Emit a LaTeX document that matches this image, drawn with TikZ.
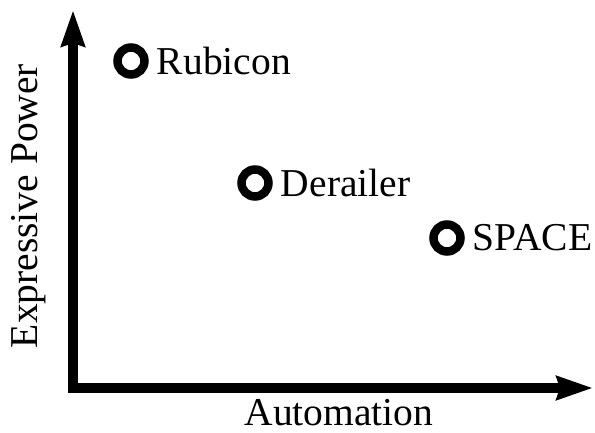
\documentclass[tikz,border=0pt]{standalone}
\usepackage{fontspec}
\setmainfont{Liberation Serif}
\usetikzlibrary{arrows.meta,positioning}
\tikzset{
  axis/.style ={line width=9.5pt,line join=miter,
                {Stealth[length=36pt,width=23pt,inset=3pt]}-{Stealth[length=36pt,width=23pt,inset=3pt]}},
  dot/.style  ={circle,draw,line width=8.5pt,minimum size=27pt,inner sep=0pt},
  lbl/.style  ={font=\fontsize{39.5}{44}\selectfont,inner sep=0pt},
}

\begin{document}
\begin{tikzpicture}[x=1pt,y=-1pt]
  \useasboundingbox (0,0) rectangle (595,433);
  % axes: one path, so the corner stays square
  \coordinate (ytop) at (73,10);
  \coordinate (xend) at (593,388);
  \draw[axis] (ytop) |- (xend);
  \node[lbl,rotate=90] (ylab) at (29,206) {Expressive Power};
  \node[lbl] (xlab) at (339,413) {Automation};
  % tools
  \node[dot] (rub) at (131,61) {};
  \node[dot] (der) at (255,183) {};
  \node[dot] (spc) at (447,238) {};
  \node[lbl,right=8pt of rub] {Rubicon};
  \node[lbl,right=8pt of der] {Derailer};
  \node[lbl,right=8pt of spc] {SPACE};
\end{tikzpicture}
\end{document}
